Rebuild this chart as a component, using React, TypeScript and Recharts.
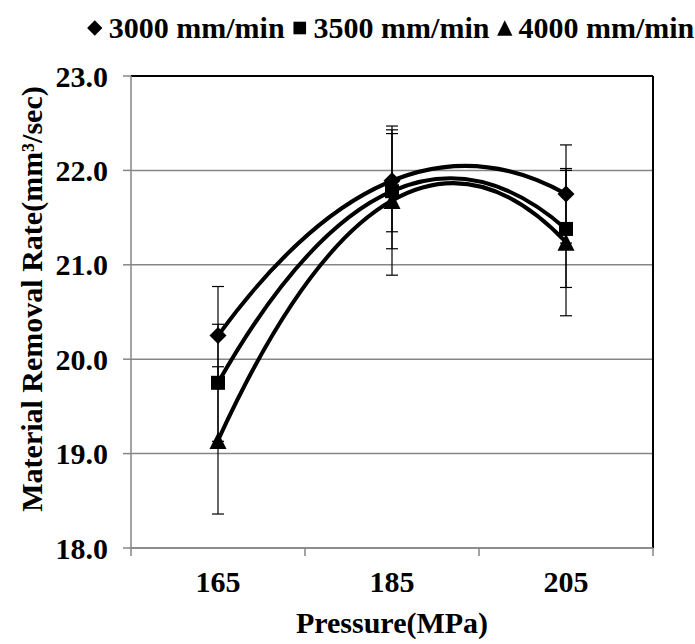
import {
  CartesianGrid,
  ErrorBar,
  Label,
  Line,
  LineChart,
  ReferenceLine,
  XAxis,
  YAxis,
} from "recharts";

// pressure levels (MPa)
const pressures = [165, 185, 205];
// material removal rate per feed rate
const mrr3000 = [20.25, 21.89, 21.75];
const mrr3500 = [19.75, 21.78, 21.38];
const mrr4000 = [19.14, 21.68, 21.24];
// error bar half-lengths
const err3000 = [0.52, 0.54, 0.52];
const err3500 = [0.62, 0.61, 0.62];
const err4000 = [0.78, 0.79, 0.78];

const xTicks = [155, 165, 175, 185, 195, 205, 215];
const xLabels = [165, 185, 205];
const yTicks = [18, 19, 20, 21, 22, 23];

const seriesNames = ["3000 mm/min", "3500 mm/min", "4000 mm/min"];

const data = pressures.map((p, i) => ({
  pressure: p,
  s3000: mrr3000[i],
  s3500: mrr3500[i],
  s4000: mrr4000[i],
  e3000: err3000[i],
  e3500: err3500[i],
  e4000: err4000[i],
}));

const FONT = "Liberation Serif";
const FS = 30;
const GRAY = "#868686";

// second order trendline through the three points (equal x spacing)
function parabola(context: any) {
  let pts: number[][] = [];
  return {
    areaStart() {},
    areaEnd() {},
    lineStart() {
      pts = [];
    },
    point(x: number, y: number) {
      pts.push([+x, +y]);
    },
    lineEnd() {
      if (pts.length === 3) {
        const [p0, p1, p2] = pts;
        context.moveTo(p0[0], p0[1]);
        context.quadraticCurveTo(p1[0], 2 * p1[1] - (p0[1] + p2[1]) / 2, p2[0], p2[1]);
      } else {
        pts.forEach((p, i) => (i === 0 ? context.moveTo(p[0], p[1]) : context.lineTo(p[0], p[1])));
      }
    },
  };
}

function Marker({ shape, cx, cy, size = 1 }: { shape: string; cx: number; cy: number; size?: number }) {
  if (shape === "diamond") {
    const r = 8.5 * size;
    return <polygon points={`${cx},${cy - r} ${cx + r},${cy} ${cx},${cy + r} ${cx - r},${cy}`} fill="#000" />;
  }
  if (shape === "square") {
    const r = 7 * size;
    return <rect x={cx - r} y={cy - r} width={2 * r} height={2 * r} fill="#000" />;
  }
  const r = 8.5 * size;
  return <polygon points={`${cx},${cy - r} ${cx + r},${cy + r} ${cx - r},${cy + r}`} fill="#000" />;
}

const dotFor = (shape: string) => (props: any) =>
  <Marker key={`${shape}-${props.index}`} shape={shape} cx={props.cx} cy={props.cy} />;

function XTick(props: any) {
  const { x, y, payload } = props;
  if (xLabels.includes(payload.value)) {
    return (
      <text x={x} y={y + 44} textAnchor="middle" fontFamily={FONT} fontWeight="bold" fontSize={FS} fill="#000">
        {payload.value}
      </text>
    );
  }
  return <line x1={x} y1={y} x2={x} y2={y + 8} stroke={GRAY} strokeWidth={1.5} />;
}

function LegendBox() {
  const shapes = ["diamond", "square", "triangle"];
  return (
    <div
      style={{
        position: "absolute",
        left: 390,
        top: 13,
        transform: "translateX(-50%)",
        display: "flex",
        fontFamily: FONT,
        fontWeight: "bold",
        fontSize: FS,
        lineHeight: "30px",
        color: "#000",
        whiteSpace: "nowrap",
      }}
    >
      {seriesNames.map((n, i) => (
        <span key={n} style={{ display: "flex", alignItems: "center", marginLeft: i ? 6 : 0 }}>
          <svg width={18} height={18} style={{ marginRight: 5 }}>
            <Marker shape={shapes[i]} cx={9} cy={9} size={0.9} />
          </svg>
          {n}
        </span>
      ))}
    </div>
  );
}

export default function App() {
  return (
    <div style={{ position: "absolute", left: 0, top: 0, width: 695, height: 644 }}>
      <LineChart width={695} height={644} data={data} margin={{ top: 76, right: 42, bottom: 56, left: 71 }}>
        <CartesianGrid horizontal vertical={false} stroke={GRAY} strokeWidth={1.5} />
        <XAxis
          dataKey="pressure"
          type="number"
          domain={[155, 215]}
          ticks={xTicks}
          interval={0}
          tickLine={false}
          tickSize={0}
          tickMargin={0}
          height={40}
          stroke={GRAY}
          strokeWidth={1.5}
          tick={<XTick />}
        >
          <Label
            content={() => (
              <text x={392} y={633} textAnchor="middle" fontFamily={FONT} fontWeight="bold" fontSize={FS} fill="#000">
                Pressure(MPa)
              </text>
            )}
          />
        </XAxis>
        <YAxis
          type="number"
          domain={[18, 23]}
          ticks={yTicks}
          interval={0}
          width={60}
          tickSize={8}
          tickMargin={15}
          stroke={GRAY}
          strokeWidth={1.5}
          tickFormatter={(v: number) => v.toFixed(1)}
          tick={{ fontFamily: FONT, fontWeight: "bold", fontSize: FS, fill: "#000" }}
        >
          <Label
            content={() => (
              <text
                transform="translate(42,299) rotate(-90)"
                textAnchor="middle"
                fontFamily={FONT}
                fontWeight="bold"
                fontSize={FS}
                fill="#000"
              >
                Material Removal Rate(mm³/sec)
              </text>
            )}
          />
        </YAxis>
        <ReferenceLine y={23} stroke="#000" strokeWidth={2} />
        <ReferenceLine x={215} stroke="#000" strokeWidth={2} />
        <Line
          dataKey="s3000"
          type={parabola as any}
          stroke="#000"
          strokeWidth={4}
          dot={dotFor("diamond")}
          activeDot={false}
          isAnimationActive={false}
        >
          <ErrorBar dataKey="e3000" direction="y" width={6} stroke="#000" strokeWidth={1.2} />
        </Line>
        <Line
          dataKey="s3500"
          type={parabola as any}
          stroke="#000"
          strokeWidth={4}
          dot={dotFor("square")}
          activeDot={false}
          isAnimationActive={false}
        >
          <ErrorBar dataKey="e3500" direction="y" width={6} stroke="#000" strokeWidth={1.2} />
        </Line>
        <Line
          dataKey="s4000"
          type={parabola as any}
          stroke="#000"
          strokeWidth={4}
          dot={dotFor("triangle")}
          activeDot={false}
          isAnimationActive={false}
        >
          <ErrorBar dataKey="e4000" direction="y" width={6} stroke="#000" strokeWidth={1.2} />
        </Line>
      </LineChart>
      <LegendBox />
    </div>
  );
}
